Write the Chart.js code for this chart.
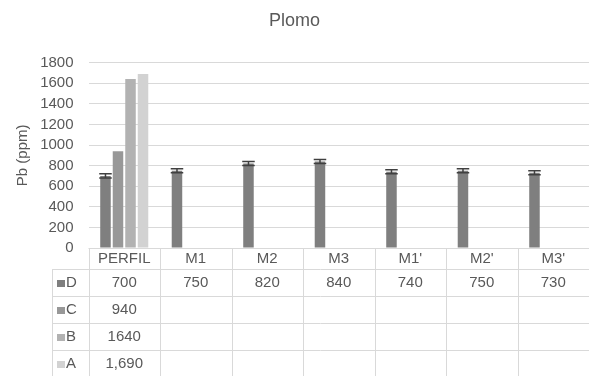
<!DOCTYPE html>
<html>
<head>
<meta charset="utf-8">
<script src="https://cdn.jsdelivr.net/npm/chart.js@4"></script>
<style>
  html, body { margin: 0; padding: 0; background: #ffffff; }
  #wrap { width: 589px; height: 376px; }
</style>
</head>
<body>
<div id="wrap"><canvas id="c" width="589" height="376"></canvas></div>
<script>
// Lead content (ppm) per sample, series D..A
const categories = ["PERFIL", "M1", "M2", "M3", "M1'", "M2'", "M3'"];
const seriesD = [700, 750, 820, 840, 740, 750, 730];
const seriesC = [940, null, null, null, null, null, null];
const seriesB = [1640, null, null, null, null, null, null];
const seriesA = [1690, null, null, null, null, null, null];
const errorsD = [20, 20, 20, 20, 20, 20, 20];
const tableD = ["700", "750", "820", "840", "740", "750", "730"];
const tableC = ["940", "", "", "", "", "", ""];
const tableB = ["1640", "", "", "", "", "", ""];
const tableA = ["1,690", "", "", "", "", "", ""];
const yTicks = [0, 200, 400, 600, 800, 1000, 1200, 1400, 1600, 1800];

const FONT = "'Liberation Sans', Arial, sans-serif";
const TEXT = '#595959';
const LINE = '#d9d9d9';
const colors = { D: '#7f7f7f', C: '#989898', B: '#b2b2b2', A: '#d2d2d2' };

// Error bars on series D
const errorBars = {
  id: 'errorBars',
  afterDatasetsDraw(chart) {
    const meta = chart.getDatasetMeta(0);
    const y = chart.scales.y;
    const ctx = chart.ctx;
    ctx.save();
    ctx.strokeStyle = '#404040';
    ctx.lineWidth = 1.5;
    meta.data.forEach((bar, i) => {
      const v = seriesD[i];
      if (v == null) return;
      const e = errorsD[i];
      const x = bar.x;
      const yHi = y.getPixelForValue(v + e);
      const yLo = y.getPixelForValue(v - e);
      const half = bar.width / 2 + 1;
      ctx.beginPath();
      ctx.moveTo(x, yHi); ctx.lineTo(x, yLo);
      ctx.moveTo(x - half, yHi); ctx.lineTo(x + half, yHi);
      ctx.moveTo(x - half, yLo); ctx.lineTo(x + half, yLo);
      ctx.stroke();
    });
    ctx.restore();
  }
};

// Data table under the plot
const dataTable = {
  id: 'dataTable',
  afterDraw(chart) {
    const ctx = chart.ctx;
    const area = chart.chartArea;
    const n = categories.length;
    const colW = (area.right - area.left) / n;
    const top = area.bottom;
    const headH = 21;
    const rowH = 27;
    const keyLeft = 52;
    const rows = [
      { key: 'D', vals: tableD },
      { key: 'C', vals: tableC },
      { key: 'B', vals: tableB },
      { key: 'A', vals: tableA }
    ];
    const bottom = top + headH + rowH * rows.length;
    ctx.save();
    ctx.strokeStyle = LINE;
    ctx.lineWidth = 1;
    ctx.beginPath();
    // horizontal rules
    ctx.moveTo(area.left, top + 0.5); ctx.lineTo(area.right, top + 0.5);
    for (let r = 0; r <= rows.length; r++) {
      const yy = Math.round(top + headH + rowH * r) + 0.5;
      ctx.moveTo(keyLeft, yy); ctx.lineTo(area.right, yy);
    }
    // vertical rules
    for (let c = 0; c <= n; c++) {
      const xx = Math.round(area.left + colW * c) + 0.5;
      ctx.moveTo(xx, top); ctx.lineTo(xx, bottom);
    }
    ctx.moveTo(keyLeft + 0.5, top + headH); ctx.lineTo(keyLeft + 0.5, bottom);
    ctx.stroke();

    ctx.fillStyle = TEXT;
    ctx.font = '15px ' + FONT;
    ctx.textAlign = 'center';
    ctx.textBaseline = 'middle';
    categories.forEach((c, i) => {
      ctx.fillText(c, area.left + colW * (i + 0.5), top + headH / 2 + 0.5);
    });
    rows.forEach((row, r) => {
      const cy = top + headH + rowH * (r + 0.5);
      ctx.fillStyle = colors[row.key];
      ctx.fillRect(keyLeft + 5, Math.round(cy - 3), 8, 7);
      ctx.fillStyle = TEXT;
      ctx.textAlign = 'left';
      ctx.fillText(row.key, keyLeft + 14, cy);
      ctx.textAlign = 'center';
      row.vals.forEach((v, i) => {
        if (v) ctx.fillText(v, area.left + colW * (i + 0.5), cy);
      });
    });
    ctx.restore();
  }
};

new Chart(document.getElementById('c'), {
  type: 'bar',
  data: {
    labels: categories,
    datasets: [
      { label: 'D', data: seriesD, backgroundColor: colors.D },
      { label: 'C', data: seriesC, backgroundColor: colors.C },
      { label: 'B', data: seriesB, backgroundColor: colors.B },
      { label: 'A', data: seriesA, backgroundColor: colors.A }
    ]
  },
  options: {
    responsive: false,
    animation: false,
    devicePixelRatio: 1,
    layout: { padding: { left: 0, right: 0, top: 0, bottom: 128 } },
    datasets: { bar: { categoryPercentage: 0.7, barPercentage: 0.84 } },
    plugins: {
      legend: { display: false },
      tooltip: { enabled: false },
      title: {
        display: true,
        text: 'Plomo',
        color: TEXT,
        font: { family: FONT, size: 18, weight: 'normal' },
        padding: { top: 10, bottom: 31 }
      }
    },
    scales: {
      x: { display: false },
      y: {
        min: 0,
        max: 1800,
        afterFit(scale) { scale.width = 88.5; },
        afterBuildTicks(scale) { scale.ticks = yTicks.map(v => ({ value: v })); },
        border: { display: false },
        grid: { color: LINE, drawTicks: false, lineWidth: 1 },
        ticks: {
          color: TEXT,
          padding: 15,
          autoSkip: false,
          font: { family: FONT, size: 15 },
          callback: (v) => String(v)
        },
        title: {
          display: true,
          text: 'Pb (ppm)',
          color: TEXT,
          font: { family: FONT, size: 15 },
          padding: { top: 14, bottom: 0 }
        }
      }
    }
  },
  plugins: [errorBars, dataTable]
});
</script>
</body>
</html>
